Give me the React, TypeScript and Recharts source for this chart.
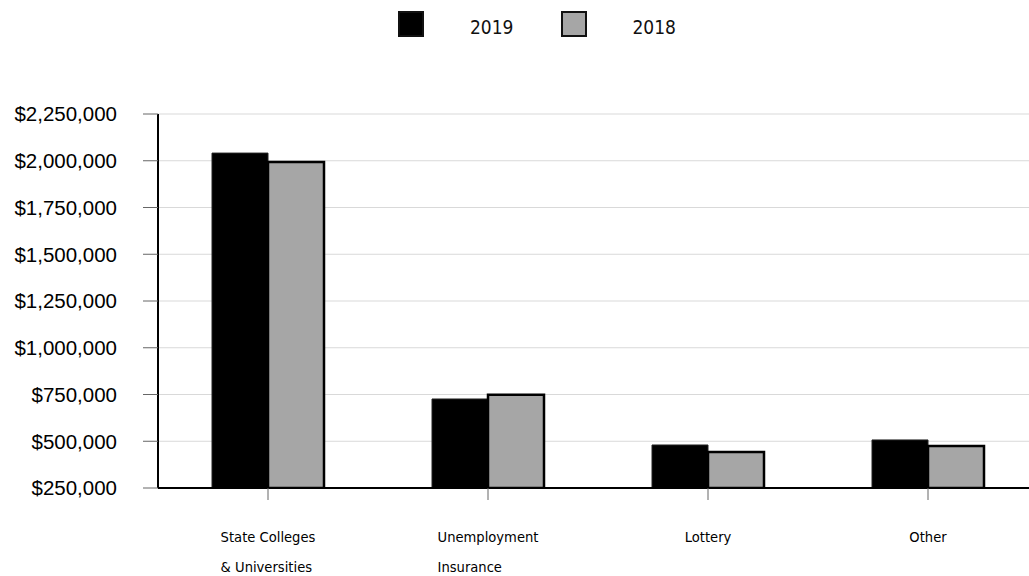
import { useLayoutEffect, useRef, useState } from "react";
import { BarChart, Bar, XAxis, YAxis, CartesianGrid } from "recharts";

const categories = ["State Colleges|& Universities", "Unemployment|Insurance", "Lottery", "Other"];
const values2019 = [2041000, 726000, 480000, 507000];
const values2018 = [1993000, 748000, 443000, 475000];
const yTicks = [250000, 500000, 750000, 1000000, 1250000, 1500000, 1750000, 2000000, 2250000];

const data = categories.map((name, i) => ({ name, y2019: values2019[i], y2018: values2018[i] }));

const money = (v: number) => "$" + v.toLocaleString("en-US");

const LABEL_FONT = "'Liberation Sans Narrow', 'DejaVu Sans Condensed', 'Open Sans', sans-serif";

function CategoryTick({ x, y, payload }: any) {
  const lines = String(payload.value).split("|");
  const ref = useRef<SVGTextElement>(null);
  const [w, setW] = useState(lines[0].length * 7);
  useLayoutEffect(() => {
    if (ref.current) setW(ref.current.getComputedTextLength());
  }, [payload.value]);
  // first line centred on the tick, the second shares its left edge
  return (
    <g fontSize={14.6} fontFamily={LABEL_FONT} fill="#000">
      <text ref={ref} x={x - w / 2} y={y + 40} textAnchor="start">{lines[0]}</text>
      {lines[1] && <text x={x - w / 2} y={y + 70} textAnchor="start">{lines[1]}</text>}
    </g>
  );
}

function LegendBox({ fill, label }: { fill: string; label: string }) {
  return (
    <div style={{ display: "flex", alignItems: "center" }}>
      <div style={{ width: 22, height: 22, background: fill, border: "2px solid #111" }} />
      <span style={{ marginLeft: 46, marginTop: 6, fontSize: 19, fontFamily: LABEL_FONT, color: "#111" }}>{label}</span>
    </div>
  );
}

export default function App() {
  return (
    <div style={{ position: "absolute", left: 0, top: 0, width: 1029, height: 576, overflow: "hidden", background: "#fff" }}>
      <div style={{ position: "absolute", left: 398, top: 10, display: "flex", gap: 47 }}>
        <LegendBox fill="#000" label="2019" />
        <LegendBox fill="#a6a6a6" label="2018" />
      </div>
      <BarChart width={1038} height={576} data={data} margin={{ top: 114, right: 0, bottom: 0, left: 0 }}
        barCategoryGap={54} barGap={0}>
        <CartesianGrid vertical={false} stroke="#d9d9d9" />
        <XAxis dataKey="name" height={88} tick={<CategoryTick />} interval={0}
          axisLine={{ stroke: "#000", strokeWidth: 2 }} tickLine={{ stroke: "#666" }} tickSize={12} />
        <YAxis width={158} domain={[250000, 2250000]} ticks={yTicks} tickFormatter={money}
          allowDataOverflow axisLine={{ stroke: "#000", strokeWidth: 2 }} tickLine={{ stroke: "#666" }}
          tickSize={15} tickMargin={26}
          tick={{ fill: "#000", fontSize: 20.5, fontFamily: "'Liberation Sans', Arial, sans-serif" }} />
        <Bar dataKey="y2019" fill="#000" stroke="#222" strokeWidth={1} isAnimationActive={false} />
        <Bar dataKey="y2018" fill="#a6a6a6" stroke="#000" strokeWidth={2.5} isAnimationActive={false} />
      </BarChart>
    </div>
  );
}
